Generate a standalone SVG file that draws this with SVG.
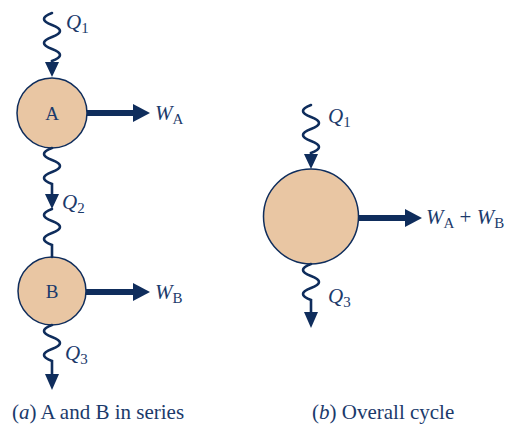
<svg xmlns="http://www.w3.org/2000/svg" width="510" height="429" viewBox="0 0 510 429">
<style>
.node{fill:#e9c6a3;stroke:#0f2d5c;stroke-width:1.5}
.wave{fill:none;stroke:#0f2d5c;stroke-width:2.6;stroke-linecap:round}
.head{fill:#0f2d5c}
.shaft{stroke:#0f2d5c;stroke-width:6}
.lbl{font-family:"Liberation Serif",serif;fill:#1b3a6b}
.it{font-style:italic}
.sub{font-size:15px}
</style>
<rect width="510" height="429" fill="#fff"/>
<g id="nodeA"><circle class="node" cx="52" cy="113" r="35"/><text class="lbl" x="52" y="120" font-size="19" text-anchor="middle">A</text></g>
<g id="nodeB"><circle class="node" cx="52" cy="291" r="34"/><text class="lbl" x="52" y="298" font-size="19" text-anchor="middle">B</text></g>
<g id="nodeC"><circle class="node" cx="311" cy="216.5" r="47.5"/></g>
<g id="connectors">
<path class="wave" d="M52,13 q-16,6 0,12 t0,12 t0,12 t0,12 L52,64"/>
<polygon class="head" points="45,62 59,62 52,77"/>
<path class="shaft" d="M87,113 H134"/>
<polygon class="head" points="133,104 150,113 133,122"/>
<path class="wave" d="M52,148 q-16,6 0,12 t0,12 t0,12 L52,196"/>
<polygon class="head" points="45,194 59,194 52,209"/>
<path class="wave" d="M52,209 q-16,6 0,12 t0,12 t0,12 L52,257"/>
<path class="shaft" d="M86,292 H134"/>
<polygon class="head" points="133,283 150,292 133,301"/>
<path class="wave" d="M52,325 q-16,6 0,12 t0,12 t0,12 L52,376"/>
<polygon class="head" points="45,374 59,374 52,390"/>
<path class="wave" d="M311,105 q-16,6 0,12 t0,12 t0,12 t0,12 L311,156"/>
<polygon class="head" points="304,154 318,154 311,169"/>
<path class="shaft" d="M358,218 H406"/>
<polygon class="head" points="405,209 422,218 405,227"/>
<path class="wave" d="M311,264 q-16,6 0,12 t0,12 t0,12 L311,314"/>
<polygon class="head" points="304,312 318,312 311,328"/>
</g>
<g id="labels" class="lbl">
<text x="66" y="29" font-size="21"><tspan class="it">Q</tspan><tspan class="sub" dy="4">1</tspan></text>
<text x="155" y="120" font-size="21"><tspan class="it">W</tspan><tspan class="sub" dy="4">A</tspan></text>
<text x="62" y="209" font-size="21"><tspan class="it">Q</tspan><tspan class="sub" dy="4">2</tspan></text>
<text x="155" y="299" font-size="21"><tspan class="it">W</tspan><tspan class="sub" dy="4">B</tspan></text>
<text x="65" y="360" font-size="21"><tspan class="it">Q</tspan><tspan class="sub" dy="4">3</tspan></text>
<text x="328" y="123" font-size="21"><tspan class="it">Q</tspan><tspan class="sub" dy="4">1</tspan></text>
<text x="426" y="224" font-size="21"><tspan class="it">W</tspan><tspan class="sub" dy="4">A</tspan><tspan dy="-4"> + </tspan><tspan class="it">W</tspan><tspan class="sub" dy="4">B</tspan></text>
<text x="328" y="303" font-size="21"><tspan class="it">Q</tspan><tspan class="sub" dy="4">3</tspan></text>
<text x="12" y="419" font-size="21">(<tspan class="it">a</tspan>) A and B in series</text>
<text x="312" y="419" font-size="21">(<tspan class="it">b</tspan>) Overall cycle</text>
</g>
</svg>
